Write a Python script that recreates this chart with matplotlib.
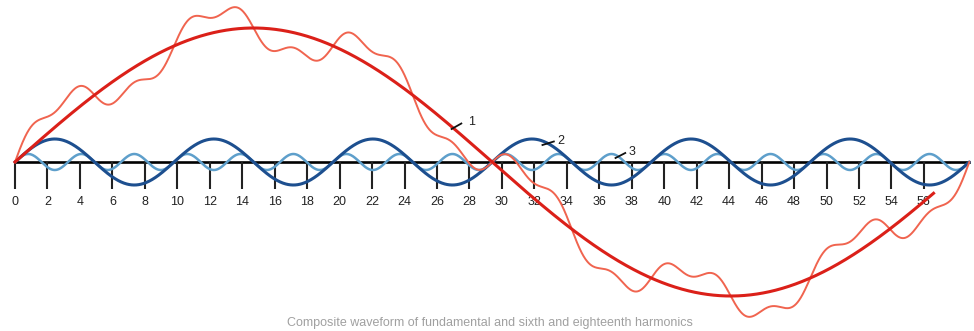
import numpy as np
import matplotlib
matplotlib.use("Agg")
import matplotlib.pyplot as plt

# ---- data ----
period = 58.8                     # fundamental period (axis units)
harmonic_numbers = [1, 6, 18]     # curve 1, curve 2, curve 3
amplitudes = [134, 23, 8]         # peak heights (axis units)
curve_labels = ["1", "2", "3"]
fundamental_end = 56.6            # the heavy red curve stops short of the end
tick_values = list(range(0, 57, 2))
tick_labels = [str(v) for v in tick_values]
caption = "Composite waveform of fundamental and sixth and eighteenth harmonics"

fig = plt.figure(figsize=(9.74, 3.31), dpi=100)
ax = fig.add_axes([0, 0, 1, 1])
px = 16.23
ax.set_xlim(-15 / px, (974 - 15) / px)
ax.set_ylim(-169, 162)

x = np.linspace(0, period, 2000)
waves = [a * np.sin(2 * np.pi * h * x / period) for h, a in zip(harmonic_numbers, amplitudes)]
composite = waves[0] + waves[1] + waves[2]

ax.plot(x, waves[2], color="#5e9fcb", lw=1.8, zorder=2, solid_capstyle="round")
ax.plot(x, waves[1], color="#1d4f8f", lw=2.2, zorder=3, solid_capstyle="round")
ax.plot(x, composite, color="#f0644f", lw=1.4, zorder=4)
m = x <= fundamental_end
ax.plot(x[m], waves[0][m], color="#db2019", lw=2.2, zorder=5)

# axis with downward ticks
for s in ["top", "right", "left"]:
    ax.spines[s].set_visible(False)
ax.spines["bottom"].set_position(("data", 0))
ax.spines["bottom"].set_bounds(0, period)
ax.spines["bottom"].set_linewidth(1.9)
ax.spines["bottom"].set_zorder(1)
ax.set_xticks(tick_values)
ax.set_xticklabels(tick_labels, fontsize=9, family="Liberation Sans", color="#222222")
ax.tick_params(axis="x", direction="out", length=19.5, width=1.5, pad=5, colors="#222222")
ax.set_yticks([])

# curve labels with leader lines
label_pos = [(27.9, 40), (33.4, 21), (37.8, 10)]
leaders = [((26.9, 33), (27.5, 38.5)), ((32.5, 17), (33.2, 20.5)), ((37.0, 4), (37.6, 9))]
for lab, (tx, ty), (p0, p1) in zip(curve_labels, label_pos, leaders):
    ax.plot([p0[0], p1[0]], [p0[1], p1[1]], color="#111111", lw=1.3, zorder=6)
    ax.text(tx, ty, lab, fontsize=9, family="Liberation Sans", color="#222222",
            va="center", ha="left", zorder=6)

# caption along the bottom edge
ax.text((490 - 15) / px, -167, caption, fontsize=9, family="Liberation Sans",
        color="#a0a0a0", ha="center", va="bottom", zorder=0)

fig.savefig("out.png", dpi=100)
